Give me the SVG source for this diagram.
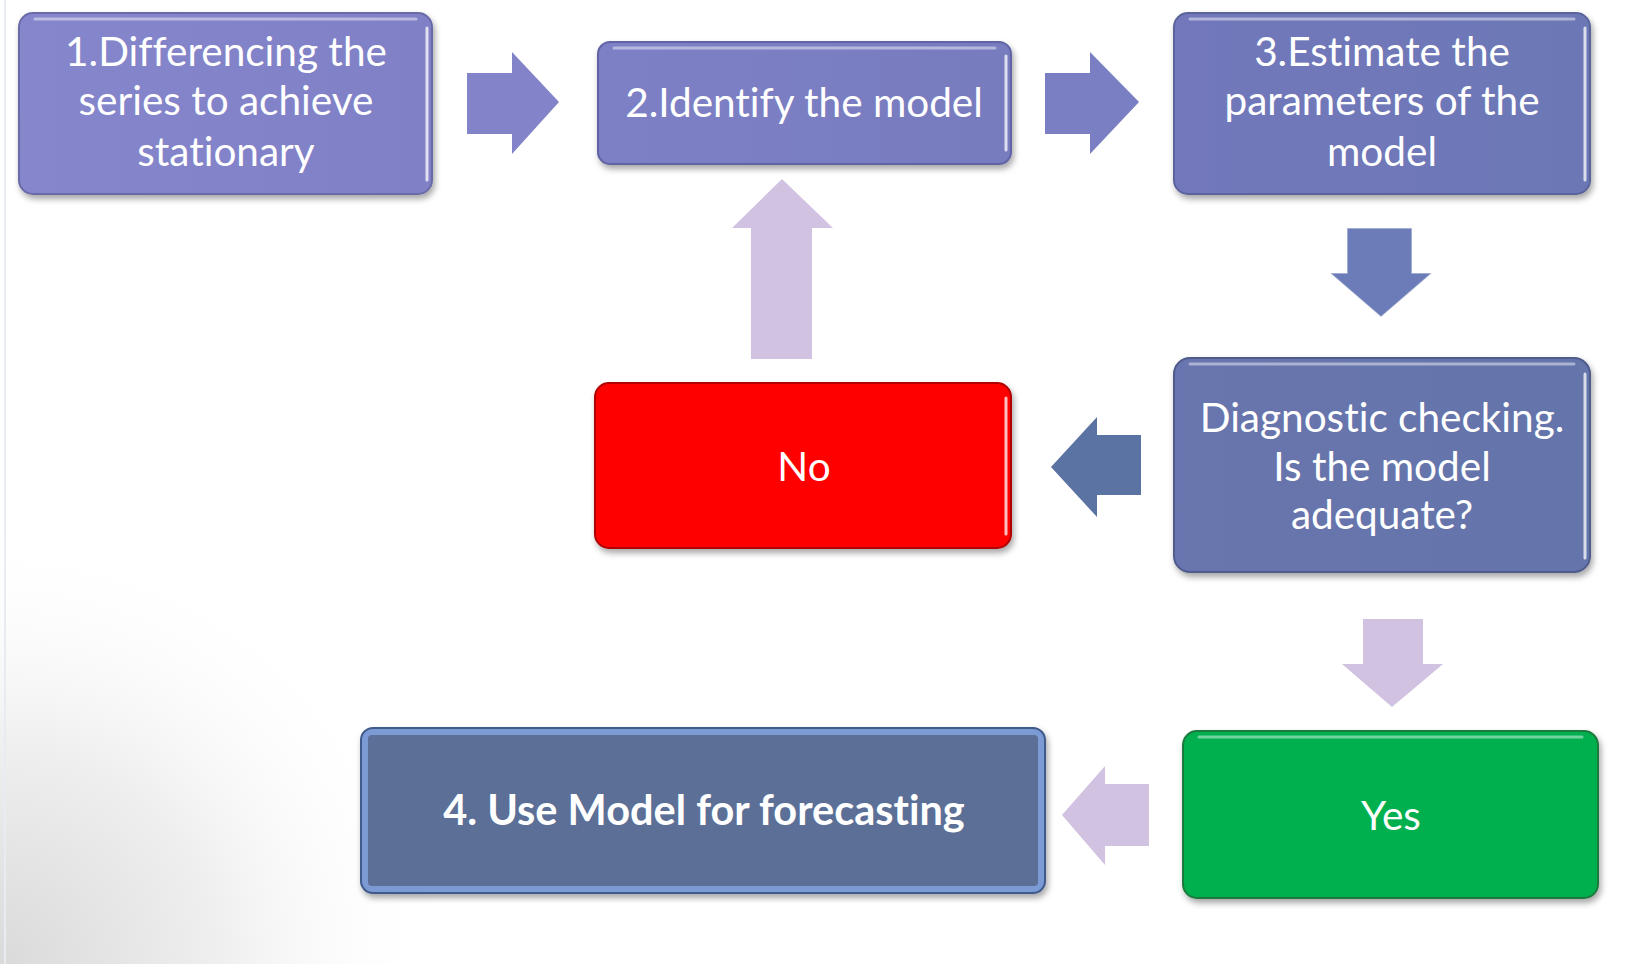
<svg xmlns="http://www.w3.org/2000/svg" width="1638" height="964" viewBox="0 0 1638 964">
<defs>
  <radialGradient id="bgCorner" cx="0" cy="964" r="440" gradientUnits="userSpaceOnUse">
    <stop offset="0" stop-color="#dadada"/>
    <stop offset="0.5" stop-color="#efefef"/>
    <stop offset="1" stop-color="#ffffff" stop-opacity="0"/>
  </radialGradient>
  <linearGradient id="gPurple1" x1="0" y1="0" x2="1" y2="0">
    <stop offset="0" stop-color="#8686cc"/>
    <stop offset="1" stop-color="#8080c6"/>
  </linearGradient>
  <linearGradient id="gPurple2" x1="0" y1="0" x2="1" y2="0">
    <stop offset="0" stop-color="#7e80c6"/>
    <stop offset="1" stop-color="#777cbe"/>
  </linearGradient>
  <linearGradient id="gPurple3" x1="0" y1="0" x2="1" y2="0">
    <stop offset="0" stop-color="#7278bb"/>
    <stop offset="1" stop-color="#6c78b6"/>
  </linearGradient>
  <linearGradient id="gDiag" x1="0" y1="0" x2="1" y2="0">
    <stop offset="0" stop-color="#6874ae"/>
    <stop offset="1" stop-color="#6475aa"/>
  </linearGradient>
  <filter id="shadow" x="-10%" y="-10%" width="120%" height="130%">
    <feDropShadow dx="2" dy="4" stdDeviation="3" flood-color="#000" flood-opacity="0.35"/>
  </filter>
  <style>
    .box { stroke-width: 2; filter: url(#shadow); }
    .hl { fill: none; stroke: #ffffff; stroke-opacity: 0.45; stroke-width: 3; stroke-linecap: round; }
    .hr { fill: none; stroke: #ffffff; stroke-opacity: 0.75; stroke-width: 3; stroke-linecap: round; }
    .lbl { font-family: Lato, "Noto Sans", "Liberation Sans", sans-serif; font-size: 40.5px; fill: #ffffff; text-anchor: middle; font-variant-ligatures: none; }
    .bold { font-weight: bold; font-size: 41.5px; }
    .arrowA { fill: #8383c9; }
    .arrowB { fill: #797fc2; }
    .arrowC { fill: #6b7cb8; stroke: #ffffff; stroke-opacity: 0.5; stroke-width: 1.5; }
    .arrowD { fill: #5b73a2; }
    .arrowL { fill: #d1c2e1; }
  </style>
</defs>

<rect x="0" y="0" width="1638" height="964" fill="#ffffff"/>
<rect x="0" y="0" width="1638" height="964" fill="url(#bgCorner)"/>
<line x1="5" y1="0" x2="5" y2="964" stroke="#e6ecf2" stroke-width="2"/>

<g id="connectors">
  <polygon class="arrowA" points="467,73 512,73 512,52 559,102 512,154 512,134 467,134"/>
  <polygon class="arrowB" points="1045,73 1090,73 1090,52 1139,102 1090,154 1090,134 1045,134"/>
  <polygon class="arrowC" points="1347,228 1412,228 1412,273 1432,273 1381,317 1330,273 1347,273"/>
  <polygon class="arrowL" points="751,359 812,359 812,228 833,228 782,179 732,228 751,228"/>
  <polygon class="arrowD" points="1141,435 1097,435 1097,417 1051,467 1097,517 1097,495 1141,495"/>
  <polygon class="arrowL" points="1363,619 1423,619 1423,664 1443,664 1392,707 1342,664 1363,664"/>
  <polygon class="arrowL" points="1149,784 1105,784 1105,766 1062,815 1105,865 1105,846 1149,846"/>
</g>

<g id="node1">
  <rect class="box" x="19" y="13" width="413" height="181" rx="14" fill="url(#gPurple1)" stroke="#6a6aa8"/>
  <path class="hl" d="M35,19 H416"/>
  <path class="hr" d="M427,28 V180"/>
  <text class="lbl" x="226" y="66">1.Differencing the</text>
  <text class="lbl" x="226" y="115">series to achieve</text>
  <text class="lbl" x="226" y="166">stationary</text>
</g>

<g id="node2">
  <rect class="box" x="598" y="42" width="413" height="122" rx="12" fill="url(#gPurple2)" stroke="#6264a4"/>
  <path class="hl" d="M614,48 H995"/>
  <path class="hr" d="M1006,56 V150"/>
  <text class="lbl" x="804" y="117">2.Identify the model</text>
</g>

<g id="node3">
  <rect class="box" x="1174" y="13" width="416" height="181" rx="14" fill="url(#gPurple3)" stroke="#5a639c"/>
  <path class="hl" d="M1190,19 H1574"/>
  <path class="hr" d="M1585,28 V180"/>
  <text class="lbl" x="1382" y="66">3.Estimate the</text>
  <text class="lbl" x="1382" y="115">parameters of the</text>
  <text class="lbl" x="1382" y="166">model</text>
</g>

<g id="node4">
  <rect class="box" x="1174" y="358" width="416" height="214" rx="16" fill="url(#gDiag)" stroke="#505c8c"/>
  <path class="hl" d="M1190,364 H1574"/>
  <path class="hr" d="M1585,374 V558"/>
  <text class="lbl" x="1382" y="432">Diagnostic checking.</text>
  <text class="lbl" x="1382" y="481">Is the model</text>
  <text class="lbl" x="1382" y="529">adequate?</text>
</g>

<g id="node5">
  <rect class="box" x="595" y="383" width="416" height="165" rx="14" fill="#ff0000" stroke="#b00000"/>
  <path class="hr" d="M1006,398 V534"/>
  <text class="lbl" x="804" y="481">No</text>
</g>

<g id="node6">
  <rect class="box" x="1183" y="731" width="415" height="167" rx="14" fill="#00b050" stroke="#1d7a3e"/>
  <path class="hl" d="M1199,737 H1582" stroke-opacity="0.3"/>
  <text class="lbl" x="1391" y="830">Yes</text>
</g>

<g id="node7">
  <rect class="box" x="361" y="728" width="684" height="165" rx="12" fill="#7b9ad4" stroke="#3f5a8c"/>
  <rect x="368" y="735" width="670" height="151" rx="4" fill="#5b6f97"/>
  <text class="lbl bold" x="704" y="825">4. Use Model for forecasting</text>
</g>
</svg>
